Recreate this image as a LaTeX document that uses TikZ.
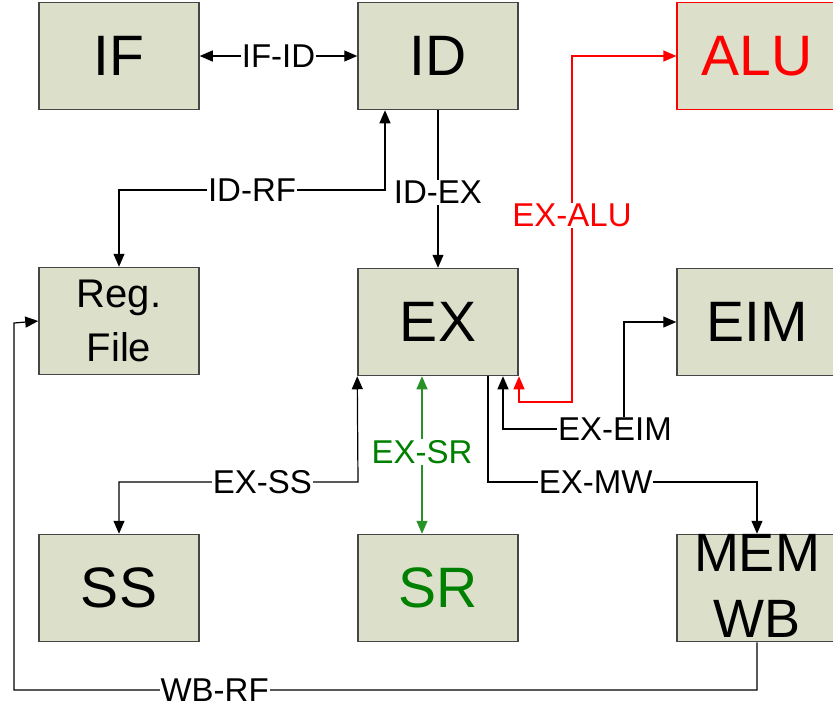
\documentclass[tikz,border=0pt]{standalone}
\usepackage{fontspec}
\setmainfont{Liberation Sans}
\usetikzlibrary{arrows.meta}
\definecolor{boxfill}{RGB}{220,223,202}
\definecolor{boxline}{RGB}{70,70,70}
\definecolor{sgreen}{RGB}{0,128,0}
\definecolor{lgreen}{RGB}{40,145,40}
\begin{document}
\begin{tikzpicture}[x=1pt,y=-1pt,
  stage/.style={draw=boxline, line width=1.5pt, fill=boxfill, minimum width=160pt, minimum height=107pt, inner sep=0pt, font=\fontsize{57}{60}\selectfont},
  conn/.style={line width=1.2pt, >={Triangle[length=13pt,width=11pt]}},
  lbl/.style={fill=white, inner sep=1pt, font=\fontsize{33}{36}\selectfont}
]
\useasboundingbox (0,0) rectangle (833,713);
\clip (0,0) rectangle (833,713);
% stages
\node[stage] (IF) at (119,56) {IF};
\node[stage] (ID) at (438,56) {ID};
\node[stage, draw=red, line width=1.2pt, text=red] (ALU) at (757,56) {ALU};
\node[stage, align=center, font=\fontsize{40}{54}\selectfont] (RF) at (119,321) {Reg.\\File};
\node[stage] (EX) at (438,322) {EX};
\node[stage] (EIM) at (757,322) {EIM};
\node[stage] (SS) at (119,588) {SS};
\node[stage, text=sgreen] (SR) at (438,588) {SR};
\node[stage] (MEM) at (757,588) {};
\node[align=center, font=\fontsize{54}{66}\selectfont] (MEMtxt) at (757,586) {MEM\\WB};
% connectors
\draw[conn,<->] (IF.east) -- node[lbl]{IF-ID} (ID.west);
\coordinate (rfa) at (119,190);
\coordinate (rfb) at (385,190);
\draw[conn,<->] (RF.north) -- (rfa) -- node[lbl,pos=0.5]{ID-RF} (rfb) -- ([xshift=-53pt]ID.south);
\draw[conn,->] (ID.south) -- node[lbl,pos=0.52]{ID-EX} (EX.north);
% EX-ALU
\coordinate (ala) at (519,402);
\coordinate (alb) at (572,402);
\coordinate (alc) at (572,56);
\draw[conn,<->,red] ([xshift=81pt]EX.south) -- (ala) -- (alb) -- node[lbl,pos=0.54,text=red]{EX-ALU} (alc) -- (ALU.west);
% EX-EIM
\coordinate (eia) at (503,429);
\coordinate (eib) at (624,429);
\coordinate (eic) at (624,322);
\draw[conn,<->] ([xshift=65pt]EX.south) -- (eia) -- (eib) -- (eic) -- (EIM.west);
\node[lbl] (eimlbl) at (615,429) {EX-EIM};
% EX-MW
\coordinate (mwa) at (488,482);
\coordinate (mwb) at (757,482);
\draw[conn,->] ([xshift=50pt]EX.south) -- (mwa) -- node[lbl,pos=0.4]{EX-MW} (mwb) -- (MEM.north);
% EX-SS
\coordinate (ssa) at (358,482);
\coordinate (ssb) at (119,482);
\draw[conn,<->] (EX.south west) -- (ssa) -- node[lbl,pos=0.4]{EX-SS} (ssb) -- (SS.north);
% EX-SR
\draw[conn,<->,lgreen] ([xshift=-16pt]EX.south) -- node[lbl,pos=0.48,text=sgreen]{EX-SR} ([xshift=-16pt]SR.north);
% WB-RF
\coordinate (wba) at (757,690);
\coordinate (wbb) at (14,690);
\coordinate (wbc) at (14,323);
\draw[conn,->] (MEM.south) -- (wba) -- node[lbl,pos=0.73]{WB-RF} (wbb) -- (wbc) -- (RF.west);
\end{tikzpicture}
\end{document}
